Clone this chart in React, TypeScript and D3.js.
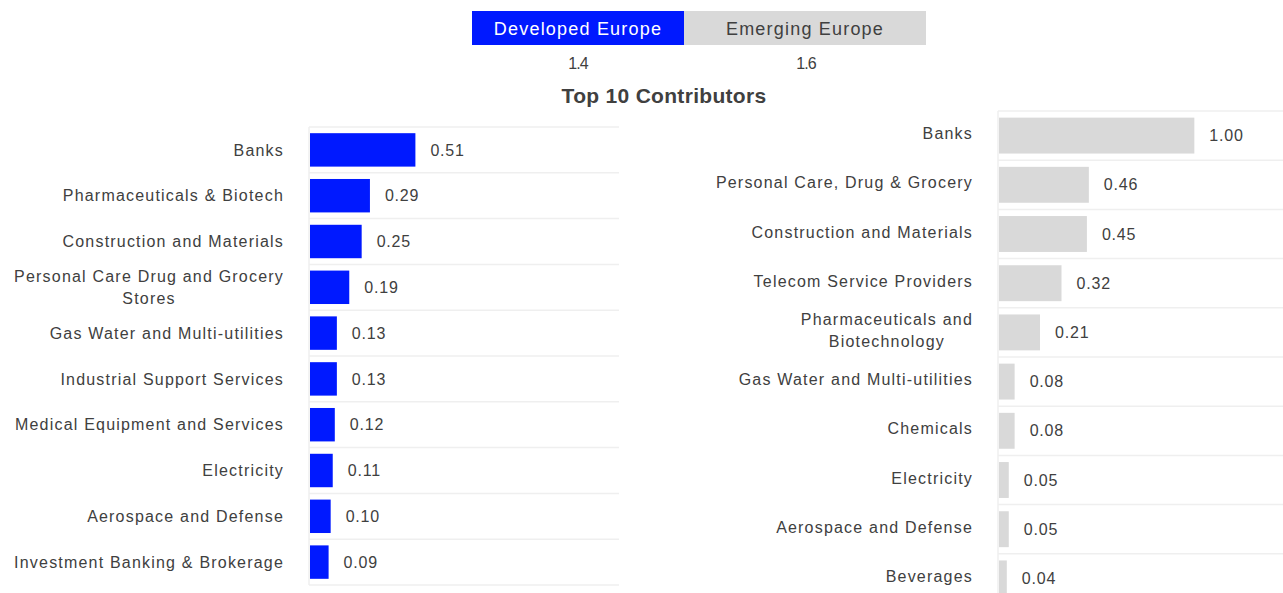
import { useEffect } from "react";
import * as d3 from "d3";

const regions = ["Developed Europe", "Emerging Europe"];
const regionValues = ["1.4", "1.6"];
const regionColors = ["#0019ff", "#d9d9d9"];

const devCategories = [
  "Banks",
  "Pharmaceuticals & Biotech",
  "Construction and Materials",
  "Personal Care Drug and Grocery\nStores",
  "Gas Water and Multi-utilities",
  "Industrial Support Services",
  "Medical Equipment and Services",
  "Electricity",
  "Aerospace and Defense",
  "Investment Banking & Brokerage",
];
const devValues = [0.51, 0.29, 0.25, 0.19, 0.13, 0.13, 0.12, 0.11, 0.1, 0.09];

const emCategories = [
  "Banks",
  "Personal Care, Drug & Grocery",
  "Construction and Materials",
  "Telecom Service Providers",
  "Pharmaceuticals and\nBiotechnology",
  "Gas Water and Multi-utilities",
  "Chemicals",
  "Electricity",
  "Aerospace and Defense",
  "Beverages",
];
const emValues = [1.0, 0.46, 0.45, 0.32, 0.21, 0.08, 0.08, 0.05, 0.05, 0.04];

const W = 1283;
const H = 593;
const FONT = "'Liberation Sans', Arial, sans-serif";
const TEXT = "#404040";
const GRID = "#efefef";
const LABEL_SPACING = 1.2;

// rough text width, used to centre wrapped labels under their widest line
const measureCtx = typeof document !== "undefined" ? document.createElement("canvas").getContext("2d") : null;
function textWidth(s: string) {
  if (!measureCtx) return s.length * 8;
  measureCtx.font = `16px ${FONT}`;
  return measureCtx.measureText(s).width + s.length * LABEL_SPACING;
}

interface PanelProps {
  categories: string[];
  values: number[];
  color: string;
  left: number;
  right: number;
  top: number;
  bottom: number;
  xMax: number;
  labelX: number;
  labelShift: number;
}

function Panel({ categories, values, color, left, right, top, bottom, xMax, labelX, labelShift }: PanelProps) {
  const y = d3.scaleBand<string>().domain(categories).range([top, bottom]).paddingInner(0.27).paddingOuter(0.135);
  const x = d3.scaleLinear().domain([0, xMax]).range([left, right]);
  const step = y.step();
  const rowLines = d3.range(categories.length + 1).map((i) => top + i * step);

  return (
    <g fontFamily={FONT}>
      {rowLines.map((ly, i) => (
        <line key={i} x1={left} x2={right} y1={ly} y2={ly} stroke={GRID} strokeWidth={1.5} />
      ))}
      <line x1={left} x2={left} y1={top} y2={bottom} stroke={GRID} strokeWidth={1.5} />
      {categories.map((c, i) => {
        const cy = (y(c) ?? 0) + y.bandwidth() / 2;
        const lines = c.split("\n");
        const v = values[i];
        const widest = d3.max(lines, textWidth) ?? 0;
        const cx = labelX - widest / 2;
        return (
          <g key={c}>
            <rect x={x(0) + 1} y={y(c)} width={x(v) - x(0)} height={y.bandwidth()} fill={color} />
            <text x={x(v) + 16} y={cy} dy="0.35em" fontSize={16} fill={TEXT} letterSpacing={0.8}>
              {v.toFixed(2)}
            </text>
            <text
              x={labelX}
              y={cy + labelShift - ((lines.length - 1) * 22) / 2}
              dy="0.35em"
              fontSize={16}
              fill={TEXT}
              letterSpacing={LABEL_SPACING}
              textAnchor={lines.length === 1 ? "end" : "middle"}
            >
              {lines.length === 1
                ? c
                : lines.map((ln, k) => (
                    <tspan key={k} x={cx} dy={k === 0 ? "0.35em" : 22}>
                      {ln}
                    </tspan>
                  ))}
            </text>
          </g>
        );
      })}
    </g>
  );
}

export default function App() {
  useEffect(() => {
    document.body.style.margin = "0";
  }, []);

  const legendX = d3.scaleOrdinal<string, number>().domain(regions).range([472, 684]);
  const legendW = [212, 242];
  const valueX = [578, 806];

  return (
    <svg width={W} height={H} style={{ display: "block", background: "#fff" }}>
      <g fontFamily={FONT}>
        {regions.map((r, i) => (
          <g key={r}>
            <rect x={legendX(r)} y={11} width={legendW[i]} height={34} fill={regionColors[i]} />
            <text
              x={legendX(r) + legendW[i] / 2}
              y={29}
              dy="0.35em"
              textAnchor="middle"
              fontSize={18}
              letterSpacing={1.2}
              fill={i === 0 ? "#ffffff" : TEXT}
            >
              {r}
            </text>
            <text
              x={valueX[i]}
              y={63}
              dy="0.35em"
              textAnchor="middle"
              fontSize={16}
              letterSpacing={-0.9}
              fill={TEXT}
            >
              {regionValues[i]}
            </text>
          </g>
        ))}
        <text
          x={664}
          y={96}
          dy="0.35em"
          textAnchor="middle"
          fontSize={21}
          fontWeight="bold"
          letterSpacing={0.3}
          fill={TEXT}
        >
          Top 10 Contributors
        </text>
      </g>
      <Panel
        categories={devCategories}
        values={devValues}
        color={regionColors[0]}
        left={309}
        right={619}
        top={127}
        bottom={585}
        xMax={1.5}
        labelX={284}
        labelShift={0}
      />
      <Panel
        categories={emCategories}
        values={emValues}
        color={regionColors[1]}
        left={998}
        right={1291}
        top={111}
        bottom={603}
        xMax={1.5}
        labelX={973}
        labelShift={-2}
      />
    </svg>
  );
}
